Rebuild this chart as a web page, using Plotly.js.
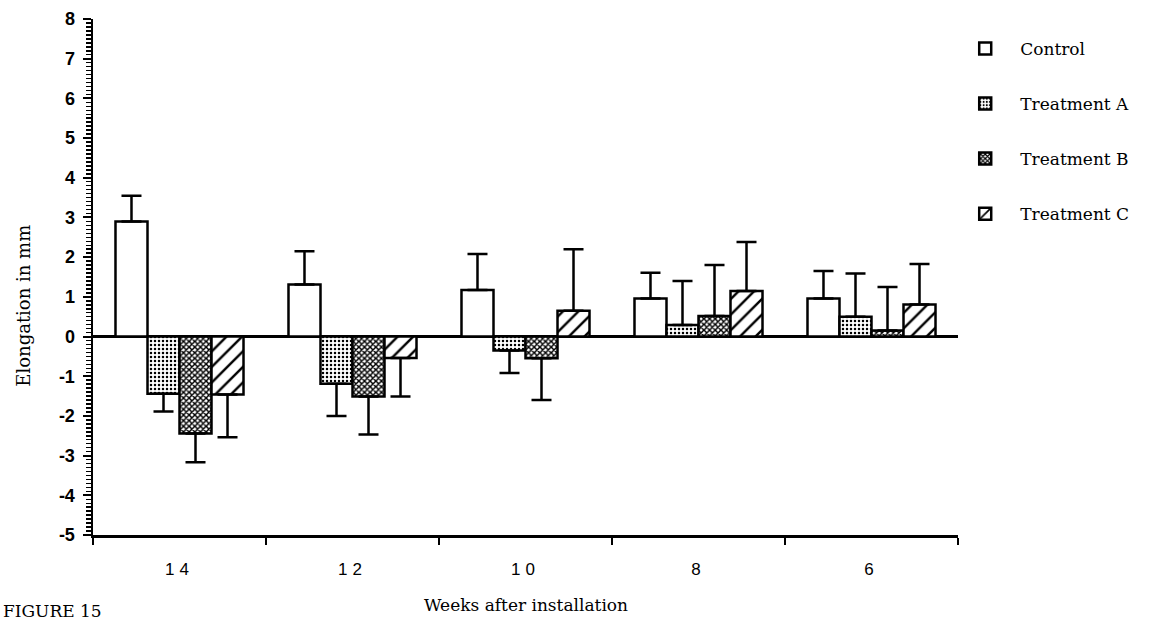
<!DOCTYPE html>
<html>
<head>
<meta charset="utf-8">
<script src="https://cdn.plot.ly/plotly-3.0.1.min.js"></script>
<style>
  html, body { margin: 0; padding: 0; background: #fff; }
  #chart { width: 1160px; height: 628px; }
  .xtick text { letter-spacing: 5px; }
</style>
</head>
<body>
<div id="chart"></div>
<script>
// Weeks after installation (categories, left to right)
const weeks = ['14', '12', '10', '8', '6'];

// Y axis tick values and their labels (plain hyphen minus)
const yTickValues = [-5, -4, -3, -2, -1, 0, 1, 2, 3, 4, 5, 6, 7, 8];
const yTickLabels = ['-5', '-4', '-3', '-2', '-1', '0', '1', '2', '3', '4', '5', '6', '7', '8'];

// Mean elongation (mm) per series
const controlMean = [2.90, 1.31, 1.17, 0.96, 0.96];
const treatAMean  = [-1.44, -1.19, -0.35, 0.29, 0.50];
const treatBMean  = [-2.44, -1.51, -0.55, 0.52, 0.15];
const treatCMean  = [-1.46, -0.54, 0.65, 1.15, 0.81];

// Error bar lengths (mm), drawn away from zero
const controlErr = [0.65, 0.84, 0.91, 0.65, 0.69];
const treatAErr  = [0.45, 0.81, 0.57, 1.11, 1.09];
const treatBErr  = [0.73, 0.96, 1.05, 1.28, 1.10];
const treatCErr  = [1.08, 0.97, 1.55, 1.23, 1.02];

const seriesNames = ['Control', 'Treatment A', 'Treatment B', 'Treatment C'];

const fills = [
  { shape: '' },
  { shape: '.', size: 4, solidity: 0.3, fgcolor: '#000', bgcolor: '#fff' },
  { shape: 'x', size: 4, solidity: 0.6, fgcolor: '#000', bgcolor: '#fff' },
  { shape: '/', size: 11, solidity: 0.22, fgcolor: '#000', bgcolor: '#fff' }
];

function makeTrace(name, means, errs, fill, idx) {
  // one-sided error bars: up for positive means, down for negative ones
  const up = means.map((m, i) => (m >= 0 ? errs[i] : 0));
  const down = means.map((m, i) => (m < 0 ? errs[i] : 0));
  return {
    type: 'bar',
    name: name,
    x: weeks,
    y: means,
    legendgroup: 'g' + idx,
    marker: {
      color: '#fff',
      line: { color: '#000', width: 2.5 },
      pattern: fill
    },
    error_y: {
      type: 'data',
      symmetric: false,
      array: up,
      arrayminus: down,
      color: '#000',
      thickness: 2.5,
      width: 10
    }
  };
}

const data = [
  makeTrace(seriesNames[0], controlMean, controlErr, fills[0], 0),
  makeTrace(seriesNames[1], treatAMean, treatAErr, fills[1], 1),
  makeTrace(seriesNames[2], treatBMean, treatBErr, fills[2], 2),
  makeTrace(seriesNames[3], treatCMean, treatCErr, fills[3], 3)
];

const serif = '"DejaVu Serif", "Liberation Serif", serif';
const sans = '"Liberation Sans", Arial, sans-serif';

const layout = {
  width: 1160,
  height: 628,
  margin: { l: 93, r: 202, t: 19, b: 93 },
  paper_bgcolor: '#fff',
  plot_bgcolor: '#fff',
  barmode: 'group',
  bargap: 0.26,
  bargroupgap: 0,
  showlegend: true,
  legend: {
    x: 0.991, y: 0.977, xanchor: 'left', yanchor: 'top',
    font: { family: serif, size: 17, color: '#000' },
    itemwidth: 60,
    tracegroupgap: 30,
    bgcolor: 'rgba(0,0,0,0)'
  },
  xaxis: {
    type: 'category',
    showline: true, linecolor: '#000', linewidth: 2.5,
    ticks: 'outside', ticklen: 7, tickwidth: 2, tickcolor: '#000',
    tickson: 'boundaries',
    ticklabelstandoff: 17,
    tickfont: { family: sans, size: 17, color: '#000' },
    showgrid: false, zeroline: false, fixedrange: true
  },
  yaxis: {
    range: [-5, 8],
    showline: true, linecolor: '#000', linewidth: 2.5,
    ticks: 'outside', ticklen: 8, tickwidth: 2, tickcolor: '#000',
    tickmode: 'array', tickvals: yTickValues, ticktext: yTickLabels,
    minor: { dtick: 0.1, ticks: 'outside', ticklen: 5, tickwidth: 1.5, tickcolor: '#000', showgrid: false },
    ticklabelstandoff: 4,
    tickfont: { family: sans, size: 18, color: '#000', weight: 'bold' },
    showgrid: false,
    zeroline: true, zerolinecolor: '#000', zerolinewidth: 2.5,
    fixedrange: true
  },
  annotations: [
    {
      text: 'Elongation in mm', textangle: -90,
      xref: 'paper', yref: 'paper', x: -0.08, y: 0.444,
      xanchor: 'center', yanchor: 'middle', showarrow: false,
      font: { family: serif, size: 18, color: '#000' }
    },
    {
      text: 'Weeks after installation',
      xref: 'paper', yref: 'paper', x: 0.5, y: -0.135,
      xanchor: 'center', yanchor: 'middle', showarrow: false,
      font: { family: serif, size: 17, color: '#000' }
    },
    {
      text: 'FIGURE 15',
      xref: 'paper', yref: 'paper', x: -0.106, y: -0.148,
      xanchor: 'left', yanchor: 'middle', showarrow: false,
      font: { family: serif, size: 17, color: '#000' }
    }
  ]
};

Plotly.newPlot('chart', data, layout, { displayModeBar: false, staticPlot: true });
</script>
</body>
</html>
